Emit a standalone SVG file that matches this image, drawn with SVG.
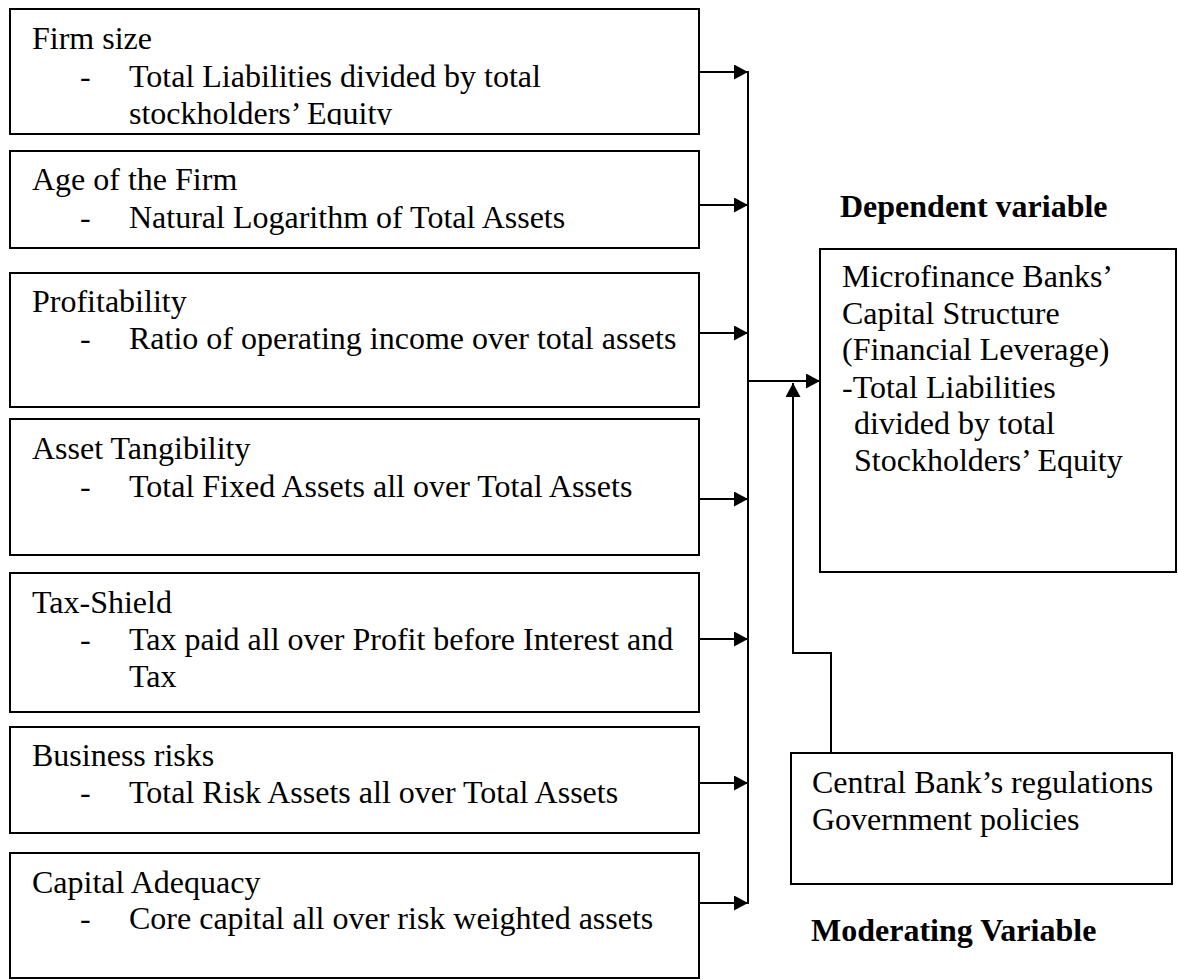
<svg xmlns="http://www.w3.org/2000/svg" width="1178" height="980" viewBox="0 0 1178 980">
<style>
  .box { fill: #fff; stroke: #000; stroke-width: 2; }
  .t { font-family: 'Liberation Serif', 'Times New Roman', Times, Tinos, 'Nimbus Roman', 'DejaVu Serif', serif; font-size: 32px; fill: #000; }
  .b { font-weight: bold; }
  .ln { fill: none; stroke: #000; stroke-width: 2; }
</style>
<defs>
  <marker id="ah" viewBox="0 0 14 15" refX="14" refY="7.5" markerWidth="14" markerHeight="15" markerUnits="userSpaceOnUse" orient="auto">
    <path d="M0,0 L14,7.5 L0,15 Z" fill="#000"/>
  </marker>
  <clipPath id="c1"><rect x="10" y="9" width="689" height="116"/></clipPath>
</defs>
<rect width="1178" height="980" fill="#fff"/>

<g id="firm-size">
  <rect class="box" x="10" y="9" width="689" height="125"/>
  <g clip-path="url(#c1)">
    <text class="t" x="32" y="49">Firm size</text>
    <text class="t" x="80" y="87">-</text>
    <text class="t" x="129" y="87">Total Liabilities divided by total</text>
    <text class="t" x="129" y="124">stockholders’ Equity</text>
  </g>
</g>

<g id="age">
  <rect class="box" x="10" y="151" width="689" height="97"/>
  <text class="t" x="32" y="190">Age of the Firm</text>
  <text class="t" x="80" y="228">-</text>
  <text class="t" x="129" y="228">Natural Logarithm of Total Assets</text>
</g>

<g id="profitability">
  <rect class="box" x="10" y="273" width="689" height="134"/>
  <text class="t" x="32" y="312">Profitability</text>
  <text class="t" x="80" y="349">-</text>
  <text class="t" x="129" y="349">Ratio of operating income over total assets</text>
</g>

<g id="tangibility">
  <rect class="box" x="10" y="419" width="689" height="136"/>
  <text class="t" x="32" y="459">Asset Tangibility</text>
  <text class="t" x="80" y="497">-</text>
  <text class="t" x="129" y="497">Total Fixed Assets all over Total Assets</text>
</g>

<g id="tax-shield">
  <rect class="box" x="10" y="573" width="689" height="139"/>
  <text class="t" x="32" y="613">Tax-Shield</text>
  <text class="t" x="80" y="650">-</text>
  <text class="t" x="129" y="650">Tax paid all over Profit before Interest and</text>
  <text class="t" x="129" y="687">Tax</text>
</g>

<g id="business-risks">
  <rect class="box" x="10" y="727" width="689" height="106"/>
  <text class="t" x="32" y="766">Business risks</text>
  <text class="t" x="80" y="803">-</text>
  <text class="t" x="129" y="803">Total Risk Assets all over Total Assets</text>
</g>

<g id="capital-adequacy">
  <rect class="box" x="10" y="853" width="689" height="125"/>
  <text class="t" x="32" y="893">Capital Adequacy</text>
  <text class="t" x="80" y="929">-</text>
  <text class="t" x="129" y="929">Core capital all over risk weighted assets</text>
</g>

<g id="dependent">
  <text class="t b" x="840" y="217">Dependent variable</text>
  <rect class="box" x="820" y="249" width="356" height="323"/>
  <text class="t" x="842" y="287">Microfinance Banks’</text>
  <text class="t" x="842" y="324">Capital Structure</text>
  <text class="t" x="842" y="360">(Financial Leverage)</text>
  <text class="t" x="842" y="398">-Total Liabilities</text>
  <text class="t" x="854" y="434">divided by total</text>
  <text class="t" x="854" y="471">Stockholders’ Equity</text>
</g>

<g id="moderating">
  <rect class="box" x="791" y="753" width="381" height="131"/>
  <text class="t" x="812" y="793">Central Bank’s regulations</text>
  <text class="t" x="812" y="830">Government policies</text>
  <text class="t b" x="811" y="941">Moderating Variable</text>
</g>

<g id="connectors">
  <line class="ln" x1="699" y1="72" x2="748" y2="72" marker-end="url(#ah)"/>
  <line class="ln" x1="699" y1="205" x2="748" y2="205" marker-end="url(#ah)"/>
  <line class="ln" x1="699" y1="333" x2="748" y2="333" marker-end="url(#ah)"/>
  <line class="ln" x1="699" y1="499" x2="748" y2="499" marker-end="url(#ah)"/>
  <line class="ln" x1="699" y1="639" x2="748" y2="639" marker-end="url(#ah)"/>
  <line class="ln" x1="699" y1="783" x2="748" y2="783" marker-end="url(#ah)"/>
  <line class="ln" x1="699" y1="903" x2="748" y2="903" marker-end="url(#ah)"/>
  <line class="ln" x1="748" y1="71" x2="748" y2="904"/>
  <line class="ln" x1="748" y1="381" x2="820" y2="381" marker-end="url(#ah)"/>
  <polyline class="ln" points="831,753 831,653 793,653 793,383" marker-end="url(#ah)"/>
</g>
</svg>
